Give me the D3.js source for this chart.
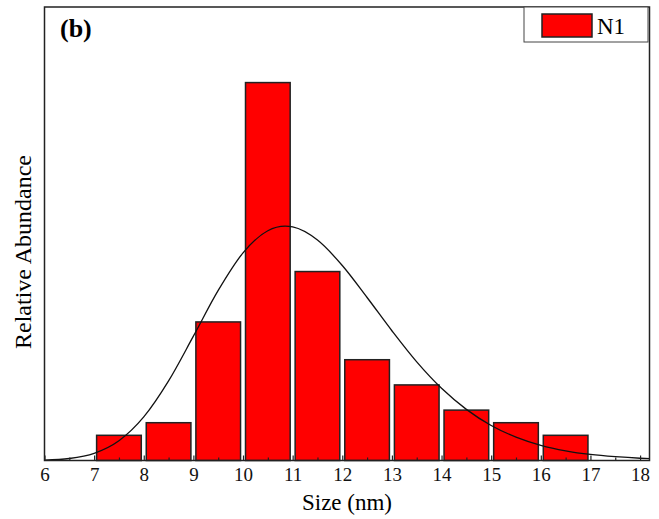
<!DOCTYPE html>
<html>
<head>
<meta charset="utf-8">
<style>
  body { margin: 0; background: #fff; }
  text { font-family: "Liberation Serif", "DejaVu Serif", serif; }
</style>
</head>
<body>
<div id="chart"></div>
<script src="https://d3js.org/d3.v7.min.js"></script>
<script>
// histogram bins (left edge of each 1 nm bin) and counts
var binStarts = [7, 8, 9, 10, 11, 12, 13, 14, 15, 16];
var counts = [2, 3, 11, 30, 15, 8, 6, 4, 3, 2];

// fitted distribution curve
var fitX = [6, 6.5, 7, 7.5, 8, 8.5, 9, 9.5, 10, 10.5, 10.85, 11, 11.5, 12, 12.5, 13, 13.5, 14, 14.5, 15, 15.5, 16, 16.5, 17, 17.5, 18, 18.2];
var fitY = [0.03, 0.16, 0.57, 1.57, 3.46, 6.32, 9.87, 13.5, 16.48, 18.24, 18.6, 18.54, 17.5, 15.48, 12.94, 10.3, 7.83, 5.73, 4.06, 2.78, 1.86, 1.21, 0.77, 0.48, 0.30, 0.18, 0.15];

var xTicks = [6, 7, 8, 9, 10, 11, 12, 13, 14, 15, 16, 17, 18];
var minorTicks = [6.5, 7.5, 8.5, 9.5, 10.5, 11.5, 12.5, 13.5, 14.5, 15.5, 16.5, 17.5];

var width = 659, height = 519;
var plotL = 44.5, plotR = 649.5, plotT = 7, plotB = 460.5;

var svg = d3.select("#chart").append("svg")
  .attr("width", width)
  .attr("height", height);

var x = d3.scaleLinear().domain([6, 18.19]).range([plotL, plotR]);
var y = d3.scaleLinear().domain([0, 36]).range([plotB, plotT]);

// bars
svg.selectAll(".bar")
  .data(binStarts)
  .enter().append("rect")
  .attr("class", "bar")
  .attr("x", function(d) { return x(d + 0.05); })
  .attr("width", function(d) { return x(d + 0.95) - x(d + 0.05); })
  .attr("y", function(d, i) { return y(counts[i]); })
  .attr("height", function(d, i) { return y(0) - y(counts[i]); })
  .style("fill", "#ff0000")
  .style("stroke", "#222")
  .style("stroke-width", 1.5);

// fit curve
var line = d3.line()
  .x(function(d, i) { return x(fitX[i]); })
  .y(function(d) { return y(d); })
  .curve(d3.curveMonotoneX);

svg.append("path")
  .datum(fitY)
  .attr("d", line)
  .style("fill", "none")
  .style("stroke", "#111")
  .style("stroke-width", 1.3);

// x axis, ticks pointing inward
var xAxis = svg.append("g")
  .attr("transform", "translate(0," + plotB + ")")
  .call(d3.axisBottom(x).tickValues(xTicks).tickSize(-5).tickPadding(7).tickFormat(d3.format("d")));
xAxis.select(".domain").remove();
xAxis.selectAll(".tick line").style("stroke", "#222").style("stroke-width", 1.2);
xAxis.selectAll(".tick text")
  .style("font-family", "Liberation Serif")
  .style("font-size", "19px")
  .style("fill", "#111");

var xMinor = svg.append("g")
  .attr("transform", "translate(0," + plotB + ")")
  .call(d3.axisBottom(x).tickValues(minorTicks).tickSize(-3).tickFormat(""));
xMinor.select(".domain").remove();
xMinor.selectAll(".tick line").style("stroke", "#222").style("stroke-width", 1.2);

// frame
svg.append("rect")
  .attr("x", plotL)
  .attr("y", plotT)
  .attr("width", plotR - plotL)
  .attr("height", plotB - plotT)
  .style("fill", "none")
  .style("stroke", "#222")
  .style("stroke-width", 1.5);

// panel label
svg.append("text")
  .attr("x", 60)
  .attr("y", 37)
  .style("font-size", "26px")
  .style("font-weight", "bold")
  .text("(b)");

// legend
svg.append("rect")
  .attr("x", 524).attr("y", plotT)
  .attr("width", 124).attr("height", 35)
  .style("fill", "#fff")
  .style("stroke", "#444")
  .style("stroke-width", 1);
svg.append("rect")
  .attr("x", 542).attr("y", 14)
  .attr("width", 50).attr("height", 23)
  .style("fill", "#ff0000")
  .style("stroke", "#222")
  .style("stroke-width", 1.5);
svg.append("text")
  .attr("x", 597).attr("y", 33.5)
  .style("font-size", "23px")
  .text("N1");

// axis titles
svg.append("text")
  .attr("x", 347)
  .attr("y", 510)
  .attr("text-anchor", "middle")
  .style("font-size", "23px")
  .text("Size (nm)");

svg.append("text")
  .attr("transform", "translate(31,252) rotate(-90)")
  .attr("text-anchor", "middle")
  .style("font-size", "24px")
  .text("Relative Abundance");
</script>
</body>
</html>
